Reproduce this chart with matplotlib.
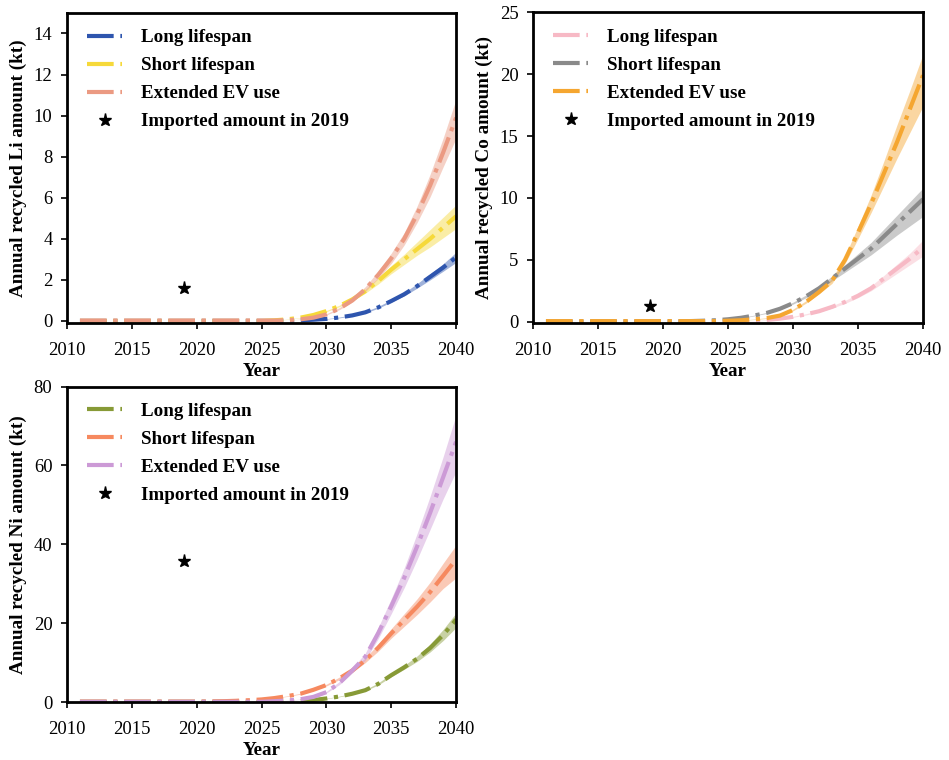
import matplotlib
matplotlib.use("Agg")
import matplotlib.pyplot as plt
import numpy as np

plt.rcParams['font.family'] = ['Liberation Serif', 'DejaVu Serif']

years = list(range(2011, 2041))
band_years = list(range(2026, 2041))
labels = ["Long lifespan", "Short lifespan", "Extended EV use"]
star_label = "Imported amount in 2019"

# ---- Li ----
li_long = [0]*16 + [0.01, 0.03, 0.06, 0.1, 0.17, 0.27, 0.42, 0.66, 0.97, 1.3, 1.7, 2.15, 2.6, 3.1]
li_short = [0]*15 + [0.03, 0.08, 0.16, 0.29, 0.48, 0.73, 1.05, 1.45, 1.95, 2.5, 3.0, 3.5, 4.0, 4.55, 5.1]
li_ext = [0.02]*16 + [0.04, 0.08, 0.16, 0.32, 0.6, 1.0, 1.55, 2.25, 3.05, 4.0, 5.2, 6.6, 8.2, 9.9]
li_long_lo = [0, .01, .03, .05, .09, .15, .25, .39, .62, .92, 1.22, 1.6, 2.0, 2.42, 2.85]
li_long_hi = [0, .01, .03, .07, .11, .19, .3, .46, .71, 1.03, 1.38, 1.82, 2.3, 2.78, 3.35]
li_short_lo = [.03, .07, .15, .27, .45, .69, .98, 1.35, 1.8, 2.3, 2.75, 3.2, 3.6, 4.05, 4.5]
li_short_hi = [.03, .09, .17, .31, .51, .77, 1.12, 1.55, 2.1, 2.7, 3.25, 3.85, 4.45, 5.05, 5.65]
li_ext_lo = [.02, .04, .07, .14, .29, .55, .92, 1.43, 2.07, 2.8, 3.7, 4.8, 6.05, 7.5, 8.9]
li_ext_hi = [.02, .04, .09, .18, .35, .65, 1.08, 1.67, 2.43, 3.3, 4.3, 5.6, 7.15, 8.9, 10.8]
li_import = 1.6

# ---- Co ----
co_long = [0]*15 + [0, 0.05, 0.15, 0.25, 0.4, 0.6, 0.85, 1.2, 1.6, 2.1, 2.7, 3.5, 4.3, 5.1, 6.0]
co_short = [0.02]*10 + [0.03, 0.05, 0.08, 0.12, 0.2, 0.32, 0.5, 0.72, 1.05, 1.5, 2.05, 2.7, 3.5, 4.3, 5.1, 5.9, 6.9, 7.9, 8.9, 9.9]
co_ext = [0.05]*14 + [0.08, 0.12, 0.2, 0.3, 0.5, 0.95, 1.6, 2.4, 3.3, 5.0, 7.2, 9.5, 12.0, 14.5, 17.2, 19.9]
co_long_lo = [0, .04, .13, .22, .36, .55, .78, 1.1, 1.48, 1.95, 2.5, 3.2, 3.9, 4.6, 5.3]
co_long_hi = [0, .06, .17, .28, .44, .65, .92, 1.3, 1.72, 2.25, 2.9, 3.75, 4.65, 5.55, 6.6]
co_short_lo = [.3, .47, .68, .99, 1.42, 1.94, 2.56, 3.3, 4.0, 4.7, 5.4, 6.2, 7.0, 7.75, 8.5]
co_short_hi = [.34, .53, .76, 1.11, 1.58, 2.16, 2.84, 3.7, 4.6, 5.5, 6.4, 7.5, 8.6, 9.7, 10.8]
co_ext_lo = [.11, .18, .27, .46, .88, 1.5, 2.25, 3.1, 4.7, 6.7, 8.8, 11.0, 13.2, 15.3, 17.4]
co_ext_hi = [.13, .22, .33, .54, 1.02, 1.7, 2.55, 3.5, 5.3, 7.7, 10.2, 13.0, 15.9, 18.7, 21.6]
co_import = 1.3

# ---- Ni ----
ni_long = [0.05]*15 + [0.08, 0.15, 0.25, 0.5, 0.9, 1.4, 2.1, 3.0, 4.6, 6.8, 8.8, 11.0, 13.7, 17.0, 20.9]
ni_short = [0.1]*10 + [0.15, 0.2, 0.3, 0.45, 0.65, 1.0, 1.5, 2.1, 3.1, 4.3, 6.0, 8.0, 10.6, 13.8, 17.4, 20.8, 24.2, 27.9, 32.0, 36.2]
ni_ext = [0.05]*15 + [0.2, 0.4, 0.7, 1.3, 2.5, 4.8, 8.0, 11.5, 17.5, 24.3, 31.5, 39.5, 48.0, 57.0, 66.0]
ni_long_lo = [.08, .14, .23, .47, .85, 1.32, 1.98, 2.83, 4.35, 6.4, 8.3, 10.3, 12.7, 15.6, 18.9]
ni_long_hi = [.08, .16, .27, .53, .95, 1.48, 2.22, 3.17, 4.85, 7.2, 9.3, 11.7, 14.7, 18.4, 22.6]
ni_short_lo = [.95, 1.42, 1.99, 2.94, 4.07, 5.67, 7.55, 10.0, 12.9, 16.2, 19.2, 22.2, 25.4, 28.8, 31.5]
ni_short_hi = [1.05, 1.58, 2.21, 3.26, 4.53, 6.33, 8.45, 11.2, 14.7, 18.6, 22.4, 26.2, 30.4, 35.2, 39.8]
ni_ext_lo = [.19, .37, .65, 1.2, 2.3, 4.4, 7.4, 10.6, 16.1, 22.4, 29.0, 36.2, 43.8, 51.5, 58.5]
ni_ext_hi = [.21, .43, .75, 1.4, 2.7, 5.2, 8.6, 12.4, 18.9, 26.2, 34.0, 42.8, 52.2, 62.2, 72.8]
ni_import = 35.8

li_colors = ['#2E55AE', '#F6D93A', '#EB9A82']
co_colors = ['#F7B9C5', '#8A8A8A', '#F5A630']
ni_colors = ['#879A36', '#F6895F', '#CC9AD6']

fig = plt.figure(figsize=(9.49, 7.6), dpi=100)

def panel(rect, series, lows, highs, colors, imp, ylim, yticks, ylabel):
    ax = fig.add_axes(rect)
    for s, lo, hi, c, lab in zip(series, lows, highs, colors, labels):
        ax.fill_between(band_years, lo, hi, color=c, alpha=0.45, lw=0)
        ax.plot(years, s, color=c, lw=3, ls='-.', label=lab)
    ax.plot([2019], [imp], ls='none', marker='*', color='black', ms=9.5, label=star_label)
    ax.set_xlim(2010, 2040)
    ax.set_ylim(*ylim)
    ax.set_xticks([2010, 2015, 2020, 2025, 2030, 2035, 2040])
    ax.set_yticks(yticks)
    ax.tick_params(labelsize=13.4, width=1.2, length=4.5)
    ax.tick_params(axis='x', pad=9)
    ax.tick_params(axis='y', pad=6)
    for sp in ax.spines.values():
        sp.set_linewidth(2)
    ax.set_xlabel('Year', fontsize=13.8, fontweight='bold', labelpad=3)
    ax.set_ylabel(ylabel, fontsize=13.8, fontweight='bold', labelpad=5)
    ax.legend(loc='upper left', frameon=False, prop={'weight': 'bold', 'size': 13.7},
              handlelength=1.85, handletextpad=1.0, labelspacing=0.56,
              borderaxespad=0.45, bbox_to_anchor=(0.01, 1.0))
    return ax

panel([0.0706, 0.575, 0.41, 0.408], [li_long, li_short, li_ext],
      [li_long_lo, li_short_lo, li_ext_lo], [li_long_hi, li_short_hi, li_ext_hi],
      li_colors, li_import, (-0.1, 15), [0, 2, 4, 6, 8, 10, 12, 14],
      'Annual recycled Li amount (kt)')
panel([0.5616, 0.575, 0.411, 0.409], [co_long, co_short, co_ext],
      [co_long_lo, co_short_lo, co_ext_lo], [co_long_hi, co_short_hi, co_ext_hi],
      co_colors, co_import, (-0.1, 25), [0, 5, 10, 15, 20, 25],
      'Annual recycled Co amount (kt)')
panel([0.0706, 0.0763, 0.41, 0.415], [ni_long, ni_short, ni_ext],
      [ni_long_lo, ni_short_lo, ni_ext_lo], [ni_long_hi, ni_short_hi, ni_ext_hi],
      ni_colors, ni_import, (0, 80), [0, 20, 40, 60, 80],
      'Annual recycled Ni amount (kt)')

fig.savefig('out.png', dpi=100)
